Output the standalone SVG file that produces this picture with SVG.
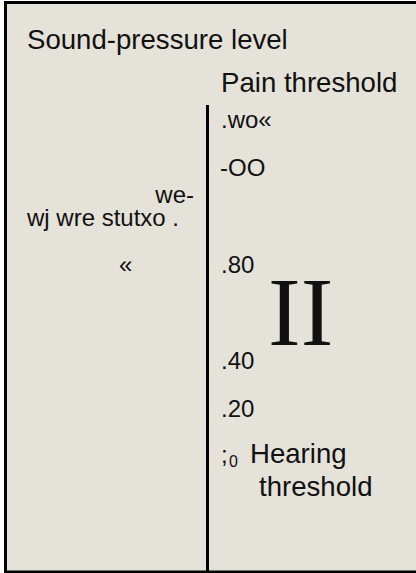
<svg xmlns="http://www.w3.org/2000/svg" width="416" height="573" viewBox="0 0 416 573">
<style>
.t{font-family:"Liberation Sans",Arial,sans-serif;fill:#111;}
.big{font-size:27.6px;}
.mid{font-size:24px;}
.sub{font-size:16px;}
.serif{font-family:"Liberation Serif","Times New Roman",serif;font-size:98px;fill:#111;}
</style>
<rect x="0" y="0" width="416" height="573" fill="#ffffff"/>
<rect id="frame" x="5.5" y="2.5" width="420" height="569.5" fill="#e5e2d9" stroke="#000" stroke-width="3"/>
<g id="connectors">
<line x1="207.5" y1="105" x2="207.5" y2="573" stroke="#000" stroke-width="3"/>
</g>
<g id="title"><text class="t big" x="27" y="48.5">Sound-pressure level</text></g>
<g id="pain"><text class="t big" x="221" y="92">Pain threshold</text></g>
<g id="scale">
<text class="t mid" x="221" y="128">.wo«</text>
<text class="t mid" x="220" y="176">-OO</text>
<text class="t mid" x="221" y="272.5">.80</text>
<text class="t mid" x="221" y="369">.40</text>
<text class="t mid" x="221" y="416.5">.20</text>
</g>
<g id="left">
<text class="t mid" x="194" y="203" text-anchor="end">we-</text>
<text class="t mid" x="27" y="226">wj wre stutxo .</text>
<text class="t mid" x="119" y="273">«</text>
</g>
<g id="bars"><text class="serif" x="268" y="345">II</text></g>
<g id="hearing">
<text class="t mid" x="221" y="463">;</text>
<text class="t sub" x="229" y="467">0</text>
<text class="t big" x="250" y="463">Hearing</text>
<text class="t big" x="259" y="496">threshold</text>
</g>
</svg>
